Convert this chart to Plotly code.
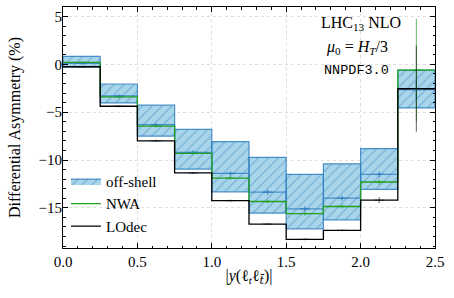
import plotly.graph_objects as go

# ---- data ----
edges = [0.0, 0.25, 0.5, 0.75, 1.0, 1.25, 1.5, 1.75, 2.0, 2.25, 2.5]
offshell_central = [0.1, -3.3, -6.3, -9.2, -11.4, -13.36, -15.1, -13.99, -11.5, -2.65]
offshell_low = [-0.28, -4.03, -7.5, -10.95, -13.33, -15.55, -17.2, -16.25, -13.06, -4.55]
offshell_high = [0.83, -2.05, -4.27, -6.8, -8.07, -9.72, -11.5, -10.4, -8.8, -0.59]
offshell_err = [0.15, 0.15, 0.15, 0.2, 0.2, 0.25, 0.25, 0.25, 0.3, 1.0]
nwa = [0.21, -3.4, -6.46, -9.3, -11.9, -14.34, -15.6, -14.86, -12.3, -0.6]
nwa_err = [0.1, 0.15, 0.15, 0.2, 0.2, 0.2, 0.2, 0.2, 0.3, 5.36]
lodec = [-0.25, -4.38, -7.99, -11.35, -14.24, -16.7, -18.3, -17.36, -14.2, -2.55]
lodec_err = [0.05, 0.1, 0.1, 0.1, 0.1, 0.1, 0.1, 0.1, 0.3, 4.5]

y_ticks = [-15, -10, -5, 0, 5]
x_ticks = [0.0, 0.5, 1.0, 1.5, 2.0, 2.5]

centers = [(a + b) / 2 for a, b in zip(edges[:-1], edges[1:])]

BLUE = "#2f7fbf"
LBLUE = "#a9d5ea"
GREEN = "#22a022"
SERIF = "Liberation Serif"

fig = go.Figure()

# off-shell uncertainty band as hatched rectangles
bx, by = [], []
for i in range(len(centers)):
    x0, x1 = edges[i], edges[i + 1]
    lo, hi = offshell_low[i], offshell_high[i]
    bx += [x0, x1, x1, x0, x0, None]
    by += [lo, lo, hi, hi, lo, None]
fig.add_trace(go.Scatter(
    x=bx, y=by, mode="lines", fill="toself", name="off-shell",
    line=dict(color="rgba(47,127,191,0.85)", width=1.2),
    fillcolor=LBLUE,
    fillpattern=dict(shape="/", fgcolor=BLUE, bgcolor=LBLUE, size=7, solidity=0.15),
    hoverinfo="skip",
))

def step(vals):
    return edges, list(vals) + [vals[-1]]

sx, sy = step(offshell_central)
fig.add_trace(go.Scatter(x=sx, y=sy, mode="lines", line_shape="hv",
                         line=dict(color="rgba(47,127,191,0.8)", width=1.2),
                         showlegend=False))
sx, sy = step(nwa)
fig.add_trace(go.Scatter(x=sx, y=sy, mode="lines", line_shape="hv", name="NWA",
                         line=dict(color=GREEN, width=1.3)))
sx, sy = step(lodec)
fig.add_trace(go.Scatter(x=sx, y=sy, mode="lines", line_shape="hv", name="LOdec",
                         line=dict(color="black", width=1.3)))

def errs(vals, err, color):
    fig.add_trace(go.Scatter(
        x=centers, y=vals, mode="markers", showlegend=False,
        marker=dict(symbol="line-ew", size=7, color=color, line=dict(width=1.2, color=color)),
        error_y=dict(type="data", array=err, color=color, thickness=1.2, width=0),
    ))

errs(offshell_central, offshell_err, "rgba(47,127,191,0.9)")
errs(nwa, nwa_err, "rgba(34,160,34,0.6)")
errs(lodec, lodec_err, "rgba(0,0,0,0.5)")

fig.add_annotation(x=0.80, y=0.93, xref="paper", yref="paper", showarrow=False,
                   xanchor="center", yanchor="middle",
                   text="LHC<sub>13</sub> NLO", font=dict(family=SERIF, size=16, color="black"))
fig.add_annotation(x=0.79, y=0.834, xref="paper", yref="paper", showarrow=False,
                   xanchor="center", yanchor="middle",
                   text="<i>μ</i><sub>0</sub> = <i>H<sub>T</sub></i>/3",
                   font=dict(family=SERIF, size=16, color="black"))
fig.add_annotation(x=0.79, y=0.738, xref="paper", yref="paper", showarrow=False,
                   xanchor="center", yanchor="middle",
                   text="NNPDF3.0", font=dict(family="Liberation Mono", size=13.5, color="black"))

axis_common = dict(
    showline=True, linecolor="black", linewidth=1, mirror="allticks",
    ticks="inside", ticklen=5, tickwidth=1, tickcolor="black",
    showgrid=True, gridcolor="#dedede", griddash="dot", gridwidth=0.8,
    zeroline=False, automargin=False,
    tickfont=dict(family=SERIF, size=15, color="black"),
    minor=dict(ticks="inside", ticklen=2.5, tickwidth=0.8, tickcolor="black", showgrid=False),
)

x_title = ("|<i>y</i>(ℓ<sub><i>t</i></sub>ℓ<sub>"
           "<span style='font-family:DejaVu Serif'><i>t̄</i></span></sub>)|")

fig.update_xaxes(range=[0, 2.5], tickvals=x_ticks, ticktext=[f"{v:.1f}" for v in x_ticks],
                 minor_dtick=0.1,
                 title=dict(text=x_title,
                            font=dict(family=SERIF, size=16, color="black"), standoff=0),
                 **axis_common)
fig.update_yaxes(range=[-19.2, 6], tickvals=y_ticks, minor_dtick=1,
                 ticklabelstandoff=-3,
                 title=dict(text="Differential Asymmetry (%)",
                            font=dict(family=SERIF, size=16, color="black"), standoff=13),
                 **axis_common)

fig.update_layout(
    width=454, height=298,
    margin=dict(l=63, r=19, t=7, b=50, autoexpand=False),
    plot_bgcolor="white", paper_bgcolor="white",
    showlegend=True,
    legend=dict(x=0.008, y=0.345, xanchor="left", yanchor="top",
                bgcolor="rgba(0,0,0,0)", font=dict(family=SERIF, size=15, color="black"),
                itemwidth=30, tracegroupgap=0),
)

fig.write_html("out.html", config={"displayModeBar": False},
               post_script="document.body.style.margin='0';document.body.style.overflow='hidden';")
